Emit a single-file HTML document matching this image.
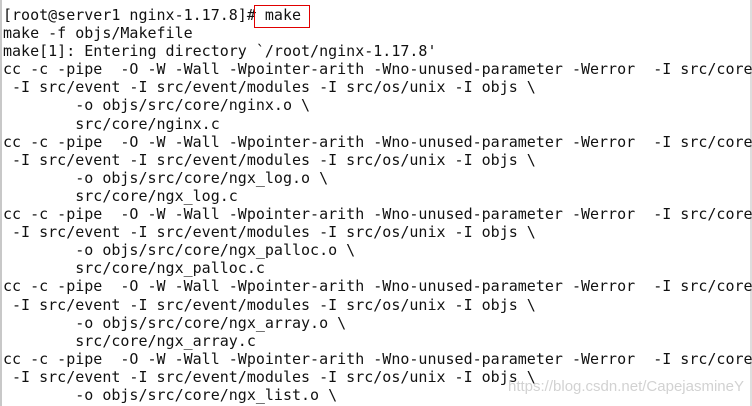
<!DOCTYPE html>
<html><head><meta charset="utf-8"><style>
html,body{margin:0;padding:0;background:#fff;}
#w{position:relative;width:752px;height:406px;overflow:hidden;background:#fff;}
#l{position:absolute;left:0;top:0;width:2px;height:406px;background:#c8c8c8;}
#r{position:absolute;left:750px;top:0;width:2px;height:406px;background:#ddd;}
pre{position:absolute;left:3px;top:6px;margin:0;font-family:"DejaVu Sans Mono","Liberation Mono",monospace;font-size:15px;line-height:18.1px;color:#111;white-space:pre;}
#box{position:absolute;left:254px;top:5px;width:56px;height:23px;border:1px solid #e00000;box-sizing:border-box;}
#wm{position:absolute;left:508px;top:378px;font-family:"Liberation Sans",sans-serif;font-size:15px;color:rgba(180,180,180,0.6);}
</style></head><body><div id="w"><div id="l"></div><div id="r"></div>
<pre>[root@server1 nginx-1.17.8]# make
make -f objs/Makefile
make[1]: Entering directory `/root/nginx-1.17.8'
cc -c -pipe  -O -W -Wall -Wpointer-arith -Wno-unused-parameter -Werror  -I src/core
 -I src/event -I src/event/modules -I src/os/unix -I objs \
        -o objs/src/core/nginx.o \
        src/core/nginx.c
cc -c -pipe  -O -W -Wall -Wpointer-arith -Wno-unused-parameter -Werror  -I src/core
 -I src/event -I src/event/modules -I src/os/unix -I objs \
        -o objs/src/core/ngx_log.o \
        src/core/ngx_log.c
cc -c -pipe  -O -W -Wall -Wpointer-arith -Wno-unused-parameter -Werror  -I src/core
 -I src/event -I src/event/modules -I src/os/unix -I objs \
        -o objs/src/core/ngx_palloc.o \
        src/core/ngx_palloc.c
cc -c -pipe  -O -W -Wall -Wpointer-arith -Wno-unused-parameter -Werror  -I src/core
 -I src/event -I src/event/modules -I src/os/unix -I objs \
        -o objs/src/core/ngx_array.o \
        src/core/ngx_array.c
cc -c -pipe  -O -W -Wall -Wpointer-arith -Wno-unused-parameter -Werror  -I src/core
 -I src/event -I src/event/modules -I src/os/unix -I objs \
        -o objs/src/core/ngx_list.o \</pre>
<div id="box"></div>
<div id="wm">https://blog.csdn.net/CapejasmineY</div>
</div></body></html>
